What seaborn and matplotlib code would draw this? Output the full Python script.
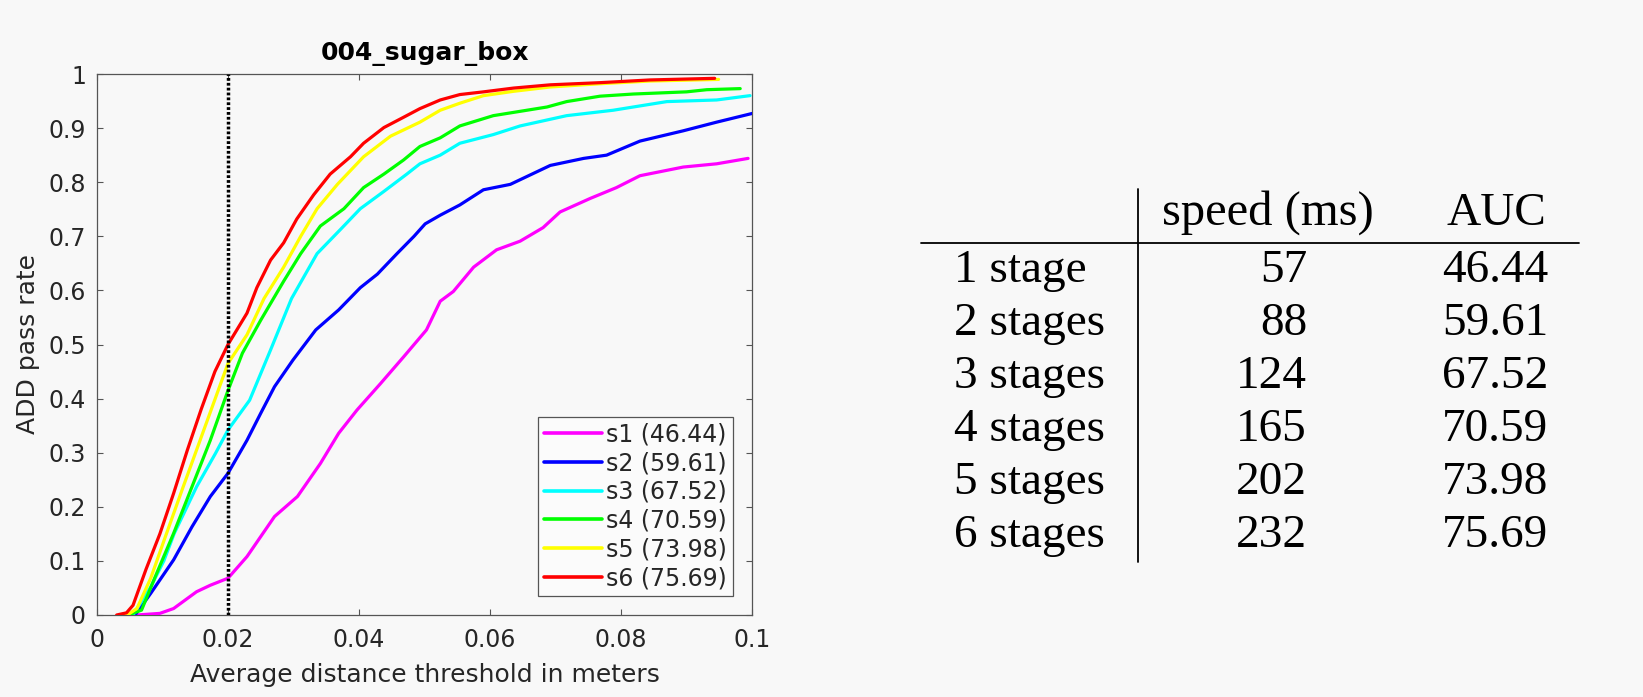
import matplotlib.pyplot as plt
import numpy as np
import pandas as pd
import seaborn as sns

# ADD pass-rate curves for 004_sugar_box, one per refinement stage
S1_X = [0.0061, 0.0096, 0.0117, 0.0152, 0.0173, 0.0200, 0.0229, 0.0271, 0.0306, 0.0341, 0.0369, 0.0397, 0.0433,
        0.0468, 0.0503, 0.0524, 0.0544, 0.0575, 0.0610, 0.0646, 0.0681, 0.0707, 0.0753, 0.0793, 0.0829, 0.0895,
        0.0946, 0.0994]
S1_Y = [0.000, 0.003, 0.012, 0.043, 0.055, 0.068, 0.108, 0.182, 0.219, 0.280, 0.336, 0.379, 0.428,
        0.477, 0.527, 0.580, 0.598, 0.643, 0.675, 0.691, 0.716, 0.745, 0.770, 0.790, 0.812, 0.828,
        0.834, 0.844]

S2_X = [0.0045, 0.0060, 0.0082, 0.0117, 0.0145, 0.0173, 0.0200, 0.0229, 0.0250, 0.0271, 0.0299, 0.0334, 0.0369,
        0.0402, 0.0428, 0.0458, 0.0484, 0.0501, 0.0524, 0.0554, 0.0590, 0.0631, 0.0692, 0.0743, 0.0778, 0.0829,
        0.0895, 0.0946, 0.1000]
S2_Y = [0.000, 0.003, 0.040, 0.102, 0.163, 0.219, 0.262, 0.323, 0.373, 0.422, 0.471, 0.527, 0.564,
        0.605, 0.630, 0.668, 0.700, 0.723, 0.739, 0.758, 0.786, 0.796, 0.831, 0.844, 0.850, 0.876,
        0.895, 0.911, 0.927]

S3_X = [0.0040, 0.0056, 0.0082, 0.0102, 0.0118, 0.0152, 0.0181, 0.0200, 0.0233, 0.0265, 0.0297, 0.0336, 0.0372,
        0.0402, 0.0438, 0.0473, 0.0493, 0.0524, 0.0554, 0.0605, 0.0646, 0.0717, 0.0788, 0.0870, 0.0946, 0.0997]
S3_Y = [0.000, 0.002, 0.052, 0.100, 0.151, 0.237, 0.299, 0.342, 0.397, 0.490, 0.585, 0.668, 0.713,
        0.751, 0.783, 0.815, 0.834, 0.850, 0.872, 0.888, 0.904, 0.923, 0.933, 0.949, 0.952, 0.960]

S4_X = [0.0038, 0.0052, 0.0068, 0.0089, 0.0117, 0.0145, 0.0173, 0.0200, 0.0222, 0.0250, 0.0285, 0.0311, 0.0341,
        0.0377, 0.0407, 0.0438, 0.0468, 0.0493, 0.0524, 0.0554, 0.0605, 0.0687, 0.0717, 0.0768, 0.0819, 0.0900,
        0.0931, 0.0982]
S4_Y = [0.000, 0.002, 0.009, 0.071, 0.151, 0.237, 0.323, 0.415, 0.484, 0.545, 0.617, 0.668, 0.719,
        0.751, 0.790, 0.815, 0.841, 0.866, 0.882, 0.904, 0.923, 0.939, 0.949, 0.959, 0.963, 0.967,
        0.971, 0.973]

S5_X = [0.0035, 0.0050, 0.0061, 0.0082, 0.0103, 0.0131, 0.0152, 0.0173, 0.0200, 0.0229, 0.0255, 0.0285, 0.0311,
        0.0336, 0.0367, 0.0407, 0.0448, 0.0493, 0.0524, 0.0554, 0.0590, 0.0636, 0.0692, 0.0768, 0.0844, 0.0949]
S5_Y = [0.000, 0.003, 0.012, 0.068, 0.140, 0.235, 0.305, 0.375, 0.465, 0.518, 0.585, 0.643, 0.700,
        0.751, 0.796, 0.847, 0.885, 0.911, 0.933, 0.946, 0.960, 0.968, 0.976, 0.982, 0.987, 0.990]

S6_X = [0.0030, 0.0045, 0.0055, 0.0075, 0.0096, 0.0117, 0.0138, 0.0159, 0.0180, 0.0200, 0.0229, 0.0244, 0.0265,
        0.0285, 0.0305, 0.0331, 0.0356, 0.0387, 0.0407, 0.0438, 0.0468, 0.0493, 0.0524, 0.0554, 0.0590, 0.0636,
        0.0692, 0.0768, 0.0844, 0.0943]
S6_Y = [0.000, 0.004, 0.018, 0.085, 0.150, 0.225, 0.305, 0.380, 0.450, 0.500, 0.558, 0.605, 0.656,
        0.688, 0.732, 0.777, 0.815, 0.847, 0.872, 0.901, 0.920, 0.936, 0.952, 0.962, 0.967, 0.974,
        0.980, 0.984, 0.989, 0.992]

STAGE_COLORS = ["#ff00ff", "#0000ff", "#00ffff", "#00ff00", "#ffff00", "#ff0000"]
THRESHOLD = 0.02

XTICKS = [0, 0.02, 0.04, 0.06, 0.08, 0.1]
XTICK_LABELS = ["0", "0.02", "0.04", "0.06", "0.08", "0.1"]
YTICKS = [0, 0.1, 0.2, 0.3, 0.4, 0.5, 0.6, 0.7, 0.8, 0.9, 1]
YTICK_LABELS = ["0", "0.1", "0.2", "0.3", "0.4", "0.5", "0.6", "0.7", "0.8", "0.9", "1"]

# table on the right
ROW_NAMES = ["1 stage", "2 stages", "3 stages", "4 stages", "5 stages", "6 stages"]
SPEED_MS = [57, 88, 124, 165, 202, 232]
AUC = [46.44, 59.61, 67.52, 70.59, 73.98, 75.69]

BG = "#f8f8f8"
INK = "#262626"

sns.set_theme(style="ticks")
plt.rcParams["font.family"] = ["DejaVu Sans"]

curves = [(S1_X, S1_Y), (S2_X, S2_Y), (S3_X, S3_Y), (S4_X, S4_Y), (S5_X, S5_Y), (S6_X, S6_Y)]
labels = [f"s{i + 1} ({a:.2f})" for i, a in enumerate(AUC)]
df = pd.concat(
    [pd.DataFrame({"x": xs, "y": ys, "stage": lab}) for (xs, ys), lab in zip(curves, labels)],
    ignore_index=True,
)

W, H = 1643, 697
fig = plt.figure(figsize=(W / 100, H / 100), dpi=100, facecolor=BG)
ax = fig.add_axes([97 / W, 1 - 615 / H, 655 / W, 541 / H])
ax.set_facecolor(BG)

sns.lineplot(data=df, x="x", y="y", hue="stage", hue_order=labels,
             palette=dict(zip(labels, STAGE_COLORS)), linewidth=2.3,
             estimator=None, sort=False, ax=ax, zorder=3)
ax.axvline(THRESHOLD, color="black", lw=2.5, ls=(0, (0.8, 0.6)), zorder=4)

ax.set_xlim(0, 0.1)
ax.set_ylim(0, 1)
ax.set_xticks(XTICKS)
ax.set_xticklabels(XTICK_LABELS)
ax.set_yticks(YTICKS)
ax.set_yticklabels(YTICK_LABELS)
ax.tick_params(direction="in", length=4.5, width=0.8, top=True, right=True,
               labelsize=17, colors="#555555", labelcolor=INK)
ax.tick_params(axis="x", pad=9.5)
ax.tick_params(axis="y", pad=8)
for sp in ax.spines.values():
    sp.set_color("#555555")
    sp.set_linewidth(0.9)

ax.set_title("004_sugar_box", fontsize=18, fontweight="bold", color="black", pad=10)
ax.set_xlabel("Average distance threshold in meters", fontsize=18, color=INK, labelpad=8)
ax.set_ylabel("ADD pass rate", fontsize=18, color=INK, labelpad=6)

handles, labs = ax.get_legend_handles_labels()
for h in handles:
    h.set_linewidth(2.6)
leg = ax.legend(handles, labs, loc="lower right", bbox_to_anchor=(0.971, 0.035),
                borderaxespad=0, fontsize=17, handlelength=2.45, handletextpad=0.2,
                labelspacing=0.2, borderpad=0.25, fancybox=False, framealpha=1)
leg.get_frame().set_edgecolor("#555555")
leg.get_frame().set_facecolor("#fbfbfb")
leg.get_frame().set_linewidth(0.9)
for t in leg.get_texts():
    t.set_color(INK)

# table drawn in pixel coordinates on an overlay axes
tab = fig.add_axes([0, 0, 1, 1], facecolor="none")
tab.set_xlim(0, W)
tab.set_ylim(H, 0)
tab.axis("off")
serif = dict(family="Liberation Serif", color="black", va="baseline")

tab.text(1268, 225, "speed (ms)", ha="center", fontsize=35, **serif)
tab.text(1496, 225, "AUC", ha="center", fontsize=34, **serif)
row_y = 281.7
for name, sp_ms, auc in zip(ROW_NAMES, SPEED_MS, AUC):
    tab.text(954, row_y, name, ha="left", fontsize=34, **serif)
    tab.text(1307, row_y, f"{sp_ms}", ha="right", fontsize=34, **serif)
    tab.text(1495, row_y, f"{auc:.2f}", ha="center", fontsize=34, **serif)
    row_y += 53
tab.plot([921, 1579], [243, 243], color="black", lw=1.3)
tab.plot([1137.7, 1137.7], [189, 562], color="black", lw=1.3)

fig.savefig("out.png", dpi=100, facecolor=BG)
